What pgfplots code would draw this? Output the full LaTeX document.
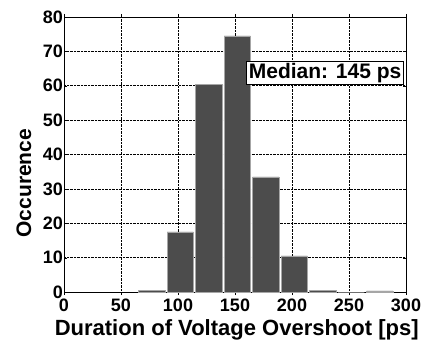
\documentclass[border=0pt]{standalone}
\usepackage{pgfplots}
\pgfplotsset{compat=1.18}
\usepackage{fontspec}
\setmainfont{Liberation Sans}
\begin{document}
\begin{tikzpicture}[x=1pt,y=1pt]
\path[use as bounding box] (-64,-48) rectangle (361,292);
\begin{axis}[
  at={(0,0)}, anchor=south west,
  scale only axis,
  width=342pt, height=275pt,
  xmin=0, xmax=300, ymin=0, ymax=80,
  xtick={0,50,...,300}, ytick={0,10,...,80},
  grid=major,
  major grid style={black, densely dotted, line width=0.5pt},
  axis line style={black, line width=0.8pt},
  tick style={black},
  major tick length=3pt,
  tick align=inside,
  /pgf/number format/assume math mode=true,
  ticklabel style={font=\fontsize{18}{18}\selectfont\bfseries, inner sep=0pt},
  xticklabel style={yshift=-4pt},
  yticklabel style={xshift=-1pt},
  xlabel={Duration of Voltage Overshoot [ps]},
  ylabel={Occurence},
  every axis x label/.style={at={(axis description cs:0.505,-0.136)}, anchor=center,
     font=\fontsize{22}{22}\selectfont\bfseries, inner sep=0pt},
  every axis y label/.style={at={(axis description cs:-0.117,0.396)}, rotate=90, anchor=center,
     font=\fontsize{21}{21}\selectfont\bfseries},
  ybar, bar width=23,
]
\addplot[fill=black!70, draw=black!35, line width=0.4pt] coordinates {
  (77,0.5) (102,17.5) (127,60.5) (152,74.5) (177,33.5) (202,10.5) (227,0.5) (252,0) (277,0.3)
};
\node[draw=black, fill=white, line width=0.8pt, inner xsep=2pt, inner ysep=1.5pt, anchor=east,
  font=\fontsize{21}{21}\selectfont\bfseries] at (axis cs:298,63.7) {Median: 145 ps};
\end{axis}
\end{tikzpicture}
\end{document}
